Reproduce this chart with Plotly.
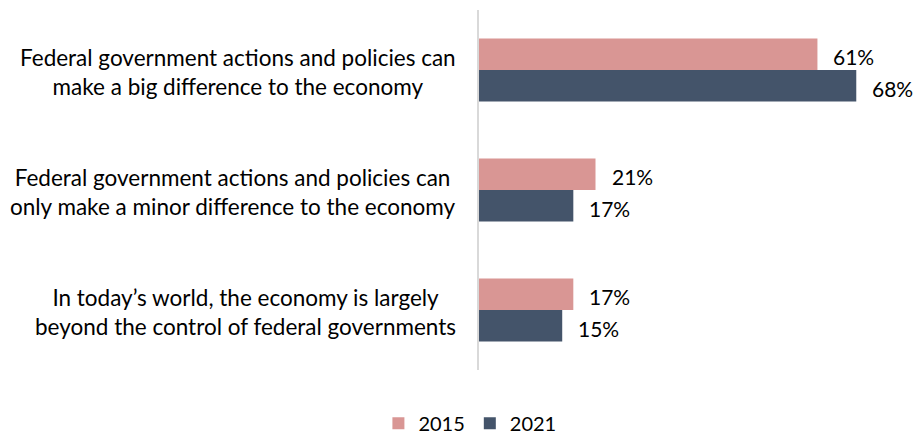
import plotly.graph_objects as go

categories = [
    "Federal government actions and policies can<br>make a big difference to the economy",
    "Federal government actions and policies can<br>only make a minor difference to the economy",
    "In today\u2019s world, the economy is largely<br>beyond the control of federal governments",
]
series_names = ["2015", "2021"]
values_2015 = [61, 21, 17]
values_2021 = [68, 17, 15]
colors = ["#D99694", "#44546A"]

FONT = "Lato, 'Open Sans', sans-serif"
keys = ["c1", "c2", "c3"]

fig = go.Figure()
for name, vals, col in zip(series_names, [values_2015, values_2021], colors):
    fig.add_trace(go.Bar(
        y=keys, x=vals, name=name, orientation="h",
        marker=dict(color=col, line=dict(width=0)),
        hoverinfo="skip",
    ))

annotations = []
# category labels: right-aligned block next to the axis, lines centred
for k, label in zip(keys, categories):
    annotations.append(dict(
        x=0, y=k, xref="x", yref="y", text=label, showarrow=False,
        xanchor="right", yanchor="middle", align="center",
        xshift=-21, yshift=-2,
        font=dict(family=FONT, size=22.5, color="#000000"),
    ))
# value labels beside each bar
for vals, shift in [(values_2015, 14), (values_2021, -18)]:
    for k, v in zip(keys, vals):
        annotations.append(dict(
            x=v, y=k, xref="x", yref="y", text=f"{v}%", showarrow=False,
            xanchor="left", yanchor="middle", xshift=14, yshift=shift,
            font=dict(family=FONT, size=21, color="#000000"),
        ))

fig.update_layout(
    width=916, height=434,
    margin=dict(l=479, r=22, t=10, b=64),
    paper_bgcolor="white", plot_bgcolor="white",
    barmode="group", bargap=0.475, bargroupgap=0,
    font=dict(family=FONT, size=20, color="#000000"),
    xaxis=dict(range=[0, 74.8], visible=False, fixedrange=True),
    yaxis=dict(autorange="reversed", showticklabels=False, ticks="",
               showgrid=False, zeroline=False,
               showline=True, linecolor="#D9D9D9", linewidth=2),
    showlegend=True,
    legend=dict(orientation="h", xref="container", x=0.513, xanchor="center",
                yref="container", y=0.025, yanchor="middle",
                font=dict(family=FONT, size=20, color="#000000"),
                itemwidth=30, tracegroupgap=0),
    annotations=annotations,
)

fig.write_html("out.html")
